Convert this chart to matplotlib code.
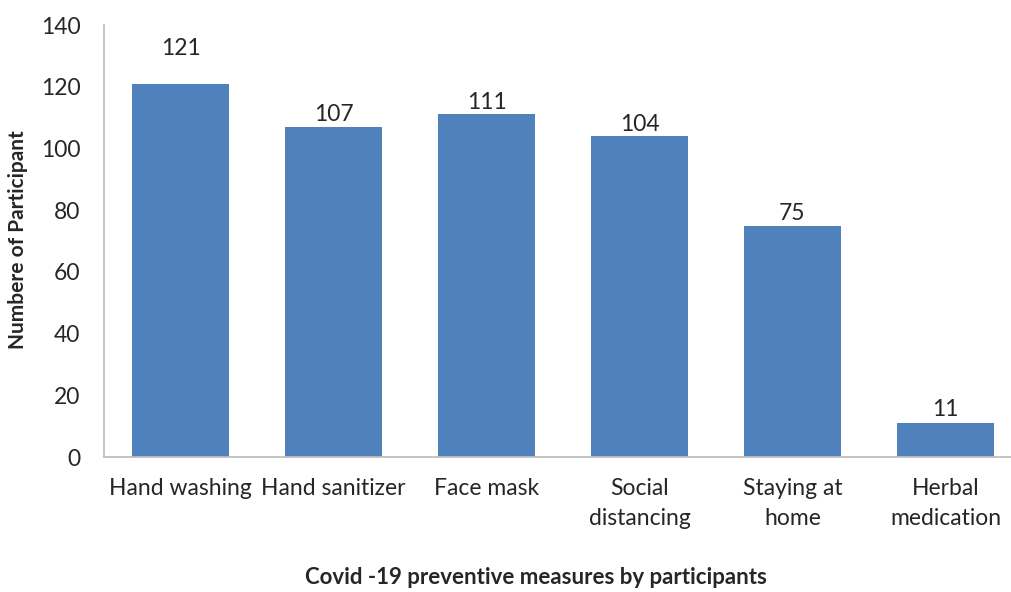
import matplotlib
matplotlib.use("Agg")
import matplotlib.pyplot as plt

categories = ["Hand washing", "Hand sanitizer", "Face mask", "Social\ndistancing", "Staying at\nhome", "Herbal\nmedication"]
values = [121, 107, 111, 104, 75, 11]
yticks = [0, 20, 40, 60, 80, 100, 120, 140]

plt.rcParams['font.family'] = ['Lato', 'DejaVu Sans']

fig = plt.figure(figsize=(10.11, 5.92), dpi=100)
ax = fig.add_axes([104/1011, 1 - 457/592, 918/1011, (457-25)/592])

x = list(range(len(categories)))
bars = ax.bar(x, values, width=0.64, color="#4F81BD")
ax.set_xlim(-0.5, len(categories) - 0.5)
ax.set_ylim(0, 140)
ax.set_yticks(yticks)
ax.set_xticks(x)
ax.set_xticklabels(categories, fontsize=16.5, color="#262626", linespacing=1.55)
ax.tick_params(axis='y', labelsize=16.5, colors="#262626", length=0, pad=17)
ax.tick_params(axis='x', length=0, pad=15)

for s in ["top", "right"]:
    ax.spines[s].set_visible(False)
for s in ["left", "bottom"]:
    ax.spines[s].set_color("#BFBFBF")
    ax.spines[s].set_linewidth(1.3)

offsets = [18, 1, 1, 1, 1, 2]
for i, (v, off) in enumerate(zip(values, offsets)):
    ax.annotate(str(v), (x[i], v), xytext=(0, off), textcoords="offset points",
                ha="center", va="bottom", fontsize=16.5, color="#262626")

fig.text(18/1011, 1 - 240/592, "Numbere of Participant", rotation=90, ha="center", va="center",
         fontsize=15, fontweight="bold", color="#262626")
fig.text(536/1011, 1 - 578/592, "Covid -19 preventive measures by participants", ha="center", va="center",
         fontsize=16, fontweight="bold", color="#262626")

fig.savefig("out.png", dpi=100, facecolor="white")
